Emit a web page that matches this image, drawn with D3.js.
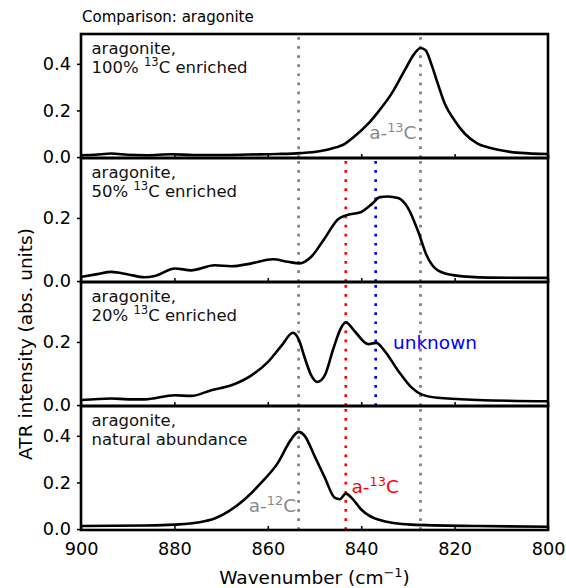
<!DOCTYPE html>
<html>
<head>
<meta charset="utf-8">
<script src="https://cdn.jsdelivr.net/npm/d3@7"></script>
<style>
  body { margin: 0; background: #fff; }
  svg { font-family: "DejaVu Sans", sans-serif; display: block; }
</style>
</head>
<body>
<script>
const xTicks = [900, 880, 860, 840, 820, 800]

// aragonite, 100% 13C
const wn100 = [900, 897, 893.5, 890, 886, 880.5, 876, 870, 864, 858, 853, 849, 846.4, 843.5, 841.4, 838.5, 836.4, 833.5, 830.7, 828.6, 827.3, 826.2, 825, 823.6, 822.1, 820, 817.8, 815, 812.5, 810.7, 806, 800]
const abs100 = [0.008, 0.01, 0.015, 0.01, 0.008, 0.012, 0.009, 0.009, 0.011, 0.013, 0.017, 0.025, 0.036, 0.057, 0.089, 0.143, 0.193, 0.272, 0.372, 0.444, 0.468, 0.458, 0.4, 0.315, 0.229, 0.157, 0.1, 0.057, 0.04, 0.031, 0.018, 0.013]

// aragonite, 50% 13C
const wn50 = [900, 896.5, 893.5, 889.9, 886.4, 884.2, 879.9, 876.4, 871.4, 867.8, 863.5, 858.9, 855.7, 853.2, 850.7, 847.8, 845, 843.3, 840, 837.8, 836, 834.3, 832.1, 830, 827.8, 826, 823.6, 820, 812.8, 800]
const abs50 = [0.013, 0.022, 0.029, 0.021, 0.012, 0.016, 0.04, 0.034, 0.05, 0.047, 0.056, 0.069, 0.061, 0.056, 0.077, 0.136, 0.195, 0.208, 0.219, 0.243, 0.266, 0.268, 0.263, 0.232, 0.157, 0.082, 0.034, 0.018, 0.011, 0.01]

// aragonite, 20% 13C
const wn20 = [900, 893.5, 889.9, 886.4, 879.9, 876.4, 872.1, 867.8, 863.5, 860, 857.1, 854.6, 853.3, 852.1, 850.7, 849.4, 847.8, 846, 844.3, 843.3, 841.4, 838.5, 836.8, 835, 832.1, 829.3, 827.1, 823.6, 815, 800]
const abs20 = [0.016, 0.021, 0.018, 0.018, 0.031, 0.029, 0.047, 0.0625, 0.094, 0.136, 0.1875, 0.229, 0.205, 0.15, 0.094, 0.073, 0.094, 0.177, 0.245, 0.2625, 0.234, 0.193, 0.197, 0.172, 0.109, 0.057, 0.034, 0.023, 0.016, 0.012]

// aragonite, natural abundance
const wnNat = [900, 886, 880, 875, 871.4, 868.5, 865, 861.4, 857.8, 855, 853.4, 852.1, 850, 847.8, 845.7, 844.6, 843.3, 842.1, 840, 836.4, 829.3, 815, 800]
const absNat = [0.013, 0.015, 0.019, 0.028, 0.045, 0.075, 0.127, 0.199, 0.285, 0.385, 0.417, 0.4, 0.314, 0.221, 0.135, 0.128, 0.152, 0.135, 0.084, 0.041, 0.019, 0.013, 0.01]

const panelLine1 = ["aragonite,", "aragonite,", "aragonite,", "aragonite,"]
const panelLine2 = [["100% ", "13", "C enriched"], ["50% ", "13", "C enriched"], ["20% ", "13", "C enriched"], ["natural abundance"]]
const yDomains = [[-0.004, 0.528], [-0.003, 0.39], [-0.003, 0.39], [-0.004, 0.528]]
const yTicks = [[0, 0.2, 0.4], [0, 0.2], [0, 0.2], [0, 0.2, 0.4]]

// marker lines
const markWn = [853.4, 843.3, 836.9, 827.3]
const markColor = ["#808080", "#ff0000", "#0000ff", "#808080"]
const markPanels = [[0, 1, 2, 3], [1, 2, 3], [1, 2], [0, 1, 2, 3]]

// annotations
const annText = [["a-", "13", "C"], ["unknown"], ["a-", "12", "C"], ["a-", "13", "C"]]
const annPanel = [0, 2, 3, 3]
const annWn = [838.3, 833.2, 864.1, 842.1]
const annVal = [0.079, 0.177, 0.073, 0.156]
const annColor = ["#8a8a8a", "#0000ff", "#8a8a8a", "#ff0000"]

const spectra = [[wn100, abs100], [wn50, abs50], [wn20, abs20], [wnNat, absNat]]

let width = 566, height = 588
let margin = {top: 34, left: 81, right: 18}
let ph = 124

const svg = d3.select("body").append("svg")
    .attr("width", width)
    .attr("height", height)

let x = d3.scaleLinear()
    .domain([900, 800])
    .range([margin.left, width - margin.right])

// text with superscript parts: [normal, sup, normal]
function supText(sel, parts, size) {
  parts.forEach((p, i) => {
    let t = sel.append("tspan").text(p)
    if (i % 2 === 1) t.attr("font-size", size * 0.7).attr("baseline-shift", size * 0.4)
  })
}

svg.append("text")
    .attr("x", margin.left + 1)
    .attr("y", 22)
    .attr("font-size", 15)
    .text("Comparison: aragonite")

spectra.forEach(([wn, ab], i) => {
  let top = margin.top + i * ph
  let bottom = top + ph
  let y = d3.scaleLinear().domain(yDomains[i]).range([bottom, top])
  let g = svg.append("g")

  // marker lines, drawn from the bottom up
  markWn.forEach((w, k) => {
    if (!markPanels[k].includes(i)) return
    g.append("line")
        .attr("x1", x(w)).attr("x2", x(w))
        .attr("y1", bottom).attr("y2", top)
        .attr("stroke", markColor[k])
        .attr("stroke-width", 2.7)
        .attr("stroke-dasharray", "2.7 6.4")
  })

  let line = d3.line()
      .x((d, j) => x(wn[j]))
      .y(d => y(d))
      .curve(d3.curveMonotoneX)

  g.append("path")
      .attr("d", line(ab))
      .attr("fill", "none")
      .attr("stroke", "#000")
      .attr("stroke-width", 2.6)
      .attr("stroke-linejoin", "round")

  // panel label
  let lab = g.append("text").attr("font-size", 16.5).attr("fill", "#111")
  lab.append("tspan").attr("x", 91.5).attr("y", top + 19.5).text(panelLine1[i])
  let l2 = g.append("text").attr("font-size", 16.5).attr("fill", "#111")
      .attr("x", 91.5).attr("y", top + 38.5)
  supText(l2, panelLine2[i], 16.5)

  // annotations
  annText.forEach((a, k) => {
    if (annPanel[k] !== i) return
    let t = g.append("text")
        .attr("x", x(annWn[k]))
        .attr("y", y(annVal[k]))
        .attr("font-size", 18.5)
        .attr("fill", annColor[k])
    supText(t, a, 18.5)
  })

  // y axis
  let ya = g.append("g")
      .attr("transform", `translate(${margin.left},0)`)
      .call(d3.axisLeft(y).tickValues(yTicks[i]).tickFormat(d3.format(".1f")).tickSize(4).tickPadding(6))
  ya.select(".domain").remove()
  ya.selectAll(".tick line").attr("stroke-width", 1.5)
  ya.selectAll("text").attr("font-size", 17.7).attr("font-family", "DejaVu Sans").attr("fill", "#000")

  // x ticks (inward)
  let xa = g.append("g")
      .attr("transform", `translate(0,${bottom})`)
      .call(d3.axisBottom(x).tickValues(xTicks).tickSize(-4).tickFormat(i === 3 ? d3.format("d") : ""))
  xa.select(".domain").remove()
  xa.selectAll(".tick line").attr("stroke-width", 1.5)
  xa.selectAll("text").attr("font-size", 17.7).attr("font-family", "DejaVu Sans").attr("fill", "#000")
      .attr("dy", null).attr("y", 25)

  g.append("rect")
      .attr("x", margin.left).attr("y", top)
      .attr("width", x(800) - margin.left).attr("height", ph)
      .attr("fill", "none")
      .attr("stroke", "#000")
      .attr("stroke-width", 2.6)
})

// axis titles
let xl = svg.append("text")
    .attr("x", (margin.left + x(800)) / 2)
    .attr("y", 584)
    .attr("text-anchor", "middle")
    .attr("font-size", 18.5)
supText(xl, ["Wavenumber (cm", "\u22121", ")"], 18.5)

svg.append("text")
    .attr("transform", `translate(32,${margin.top + 2.5 * ph}) rotate(-90)`)
    .attr("text-anchor", "middle")
    .attr("font-size", 18.5)
    .text("ATR intensity (abs. units)")
</script>
</body>
</html>
